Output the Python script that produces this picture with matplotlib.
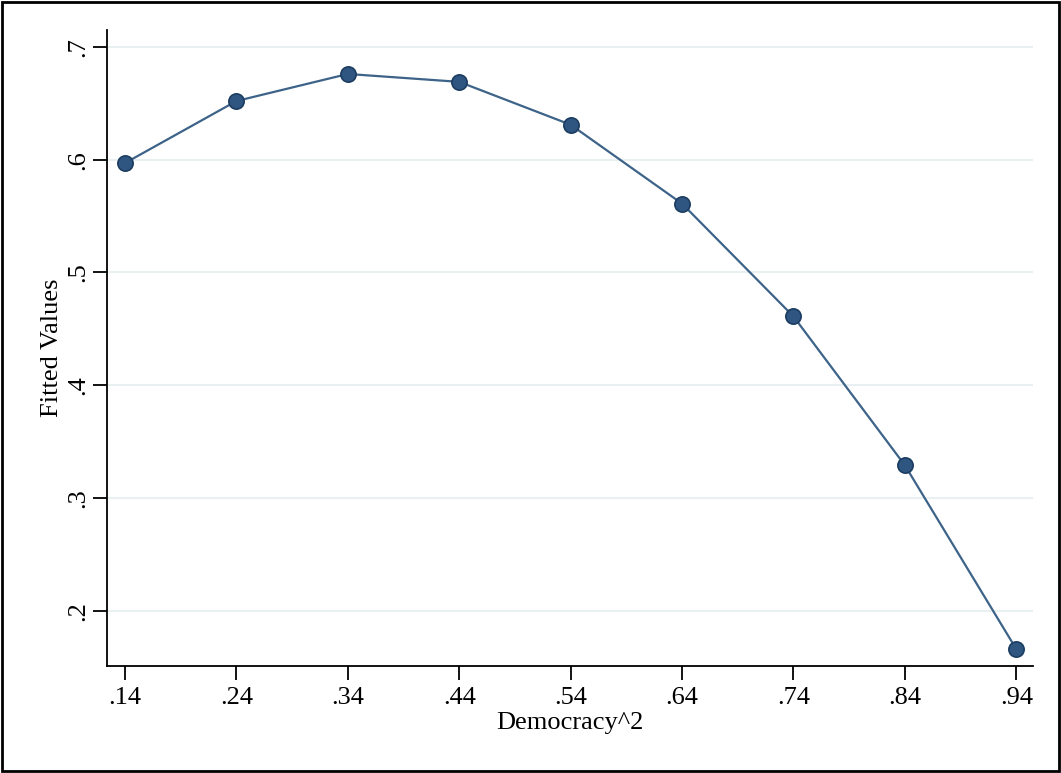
import matplotlib.pyplot as plt
from matplotlib.patches import Rectangle

# Values
democracy_sq = [0.14, 0.24, 0.34, 0.44, 0.54, 0.64, 0.74, 0.84, 0.94]
fitted = [0.597, 0.652, 0.676, 0.669, 0.631, 0.561, 0.461, 0.329, 0.166]
x_ticks = [0.14, 0.24, 0.34, 0.44, 0.54, 0.64, 0.74, 0.84, 0.94]
x_labels = ['.14', '.24', '.34', '.44', '.54', '.64', '.74', '.84', '.94']
y_ticks = [0.2, 0.3, 0.4, 0.5, 0.6, 0.7]
y_labels = ['.2', '.3', '.4', '.5', '.6', '.7']

plt.rcParams['font.family'] = ['Liberation Serif', 'DejaVu Serif']

fig = plt.figure(figsize=(10.61, 7.73), dpi=100)
ax = fig.add_axes([0.1008, 0.1384, 0.8728, 0.8228])

# Outer frame around the whole figure
fig.patches.append(Rectangle((0.002, 0.003), 0.996, 0.994, transform=fig.transFigure,
                             fill=False, edgecolor='black', linewidth=2))

ax.plot(democracy_sq, fitted, color='#3d6389', linewidth=1.6, marker='o',
        markersize=11, markerfacecolor='#2f5680', markeredgecolor='#1c3d62',
        markeredgewidth=1.2, zorder=3)

ax.set_xlim(0.1238, 0.955)
ax.set_ylim(0.151, 0.715)
ax.set_xticks(x_ticks)
ax.set_xticklabels(x_labels)
ax.set_yticks(y_ticks)
ax.set_yticklabels(y_labels, rotation=90, va='center')

ax.grid(axis='y', color='#e8f0f2', linewidth=1.5)
ax.set_axisbelow(True)

for side in ['top', 'right']:
    ax.spines[side].set_visible(False)
for side in ['left', 'bottom']:
    ax.spines[side].set_linewidth(1.3)

ax.tick_params(axis='both', direction='out', length=10, width=1.3, labelsize=19)
ax.tick_params(axis='x', pad=5)
ax.tick_params(axis='y', pad=3)

ax.set_xlabel('Democracy^2', fontsize=19, labelpad=2)
ax.set_ylabel('Fitted Values', fontsize=19, labelpad=3)

plt.savefig('out.png', dpi=100)
plt.close()
